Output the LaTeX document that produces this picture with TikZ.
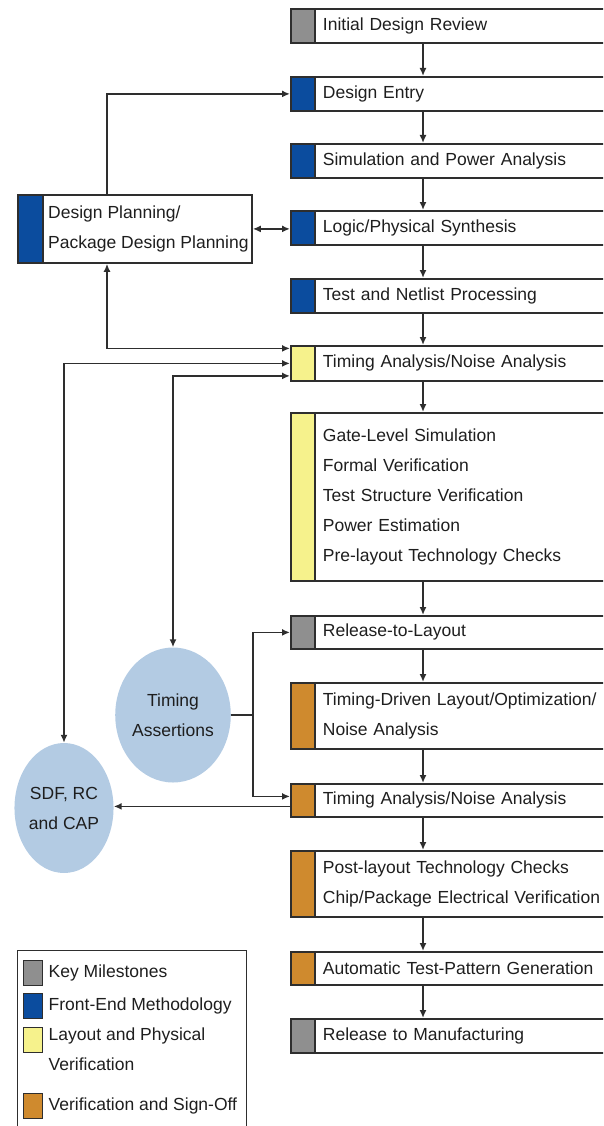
\documentclass[tikz,border=0pt]{standalone}
\usepackage{fontspec}
\setmainfont{Liberation Sans}
\usetikzlibrary{arrows.meta,shapes.geometric,calc}
\definecolor{cgrey}{HTML}{8F8F8F}
\definecolor{cblue}{HTML}{0B4C9E}
\definecolor{cyel}{HTML}{F6F28C}
\definecolor{corg}{HTML}{CF8A2E}
\definecolor{cell}{HTML}{B3CBE3}
\definecolor{lc}{HTML}{2E2E2E}
\definecolor{tc}{HTML}{1E1E1E}
\newcommand{\fsz}{\fontsize{17.5}{30}\selectfont}
\begin{document}
\begin{tikzpicture}[x=1pt,y=1pt,
  stage/.style={draw=lc, line width=1.8pt, anchor=north west, inner xsep=32pt, inner ysep=0pt,
    text width=300pt, align=left, font=\fsz, text=tc,
    path picture={\fill[#1] (path picture bounding box.south west) rectangle ([xshift=24pt]path picture bounding box.north west);
      \draw[lc, line width=1.6pt] ([xshift=24pt]path picture bounding box.south west) -- ([xshift=24pt]path picture bounding box.north west);}},
  dpbox/.style={draw=lc, line width=1.8pt, anchor=north west, minimum width=234pt, minimum height=68pt, inner sep=0pt,
    path picture={\fill[cblue] (path picture bounding box.south west) rectangle ([xshift=25pt]path picture bounding box.north west);
      \draw[lc, line width=1.6pt] ([xshift=25pt]path picture bounding box.south west) -- ([xshift=25pt]path picture bounding box.north west);}},
  txt/.style={anchor=west, align=left, font=\fsz, text=tc, inner sep=0pt},
  oval/.style={ellipse, fill=cell, inner sep=0pt, align=center, font=\fsz, text=tc},
  swatch/.style={draw=lc, line width=1pt, minimum width=19pt, minimum height=25pt, inner sep=0pt},
  arr/.style={draw=lc, line width=1.6pt, -{Latex[length=8pt,width=7pt]}},
  arrr/.style={draw=lc, line width=1.6pt, {Latex[length=8pt,width=7pt]}-{Latex[length=8pt,width=7pt]}},
  ln/.style={draw=lc, line width=1.6pt}
]
\useasboundingbox (0,0) rectangle (603,-1126);
\clip (0,0) rectangle (603,-1126);

% main flow
\node[stage=cgrey, minimum height=34pt] (b1) at (290,-8) {Initial Design Review};
\node[stage=cblue, minimum height=34pt] (b2) at (290,-76) {Design Entry};
\node[stage=cblue, minimum height=34pt] (b3) at (290,-143) {Simulation and Power Analysis};
\node[stage=cblue, minimum height=34pt] (b4) at (290,-210) {Logic/Physical Synthesis};
\node[stage=cblue, minimum height=34pt] (b5) at (290,-278) {Test and Netlist Processing};
\node[stage=cyel, minimum height=35pt] (b6) at (290,-345) {Timing Analysis/Noise Analysis};
\node[stage=cyel, minimum height=168pt] (b7) at (290,-412) {Gate-Level Simulation\\Formal Verification\\Test Structure Verification\\Power Estimation\\Pre-layout Technology Checks};
\node[stage=cgrey, minimum height=33pt] (b8) at (290,-615) {Release-to-Layout};
\node[stage=corg, minimum height=66pt] (b9) at (290,-682) {Timing-Driven Layout/Optimization/\\Noise Analysis};
\node[stage=corg, minimum height=33pt] (b10) at (290,-783) {Timing Analysis/Noise Analysis};
\node[stage=corg, minimum height=66pt] (b11) at (290,-850) {Post-layout Technology Checks\\Chip/Package Electrical Verification};
\node[stage=corg, minimum height=33pt] (b12) at (290,-951) {Automatic Test-Pattern Generation};
\node[stage=cgrey, minimum height=34pt] (b13) at (290,-1018) {Release to Manufacturing};

\coordinate (xa) at (423,0);
\coordinate (xl) at (107,0);
\coordinate (xj) at (253,0);

\foreach \a/\b in {b1/b2,b2/b3,b3/b4,b4/b5,b5/b6,b6/b7,b7/b8,b8/b9,b9/b10,b10/b11,b11/b12,b12/b13}
  \draw[arr] (\a.south -| xa) -- (\b.north -| xa);

% design planning
\node[dpbox] (dp) at (17,-194) {};
\node[txt] (dpt) at ([xshift=31pt]dp.west) {Design Planning/\\Package Design Planning};

% ovals
\node[oval, minimum width=94pt, minimum height=135pt] (ta) at (173,-715) {Timing\\Assertions};
\node[oval, minimum width=96pt, minimum height=130pt] (sdf) at (64,-808) {SDF, RC\\and CAP};

% connectors
\draw[arr] (dp.north -| xl) |- (b2.west);
\draw[arrr] (dp.east) -- (dp.east -| b4.west);
\draw[arrr] (dp.south -| xl) |- ([yshift=15pt]b6.west);
\draw[arrr] (sdf.north) |- (b6.west);
\draw[arrr] (ta.north) |- ([yshift=-12.5pt]b6.west);
\draw[ln] (ta.east) -- (ta.east -| xj);
\draw[arr] (ta.east -| xj) |- (b8.west);
\draw[arr] (ta.east -| xj) |- ([yshift=4pt]b10.west);
\draw[arr] ([yshift=-6pt]b10.west) -- ([yshift=-6pt]b10.west -| sdf.east);

% legend
\node[draw=lc, line width=1.3pt, anchor=north west, minimum width=229pt, minimum height=200pt, inner sep=0pt] (leg) at (17,-950) {};
\node[swatch, fill=cgrey] (s1) at (32.5,-972.5) {};
\node[swatch, fill=cblue] (s2) at (32.5,-1005.5) {};
\node[swatch, fill=cyel] (s3) at (32.5,-1040) {};
\node[swatch, fill=corg] (s4) at (32.5,-1106) {};
\node[txt] (l1) at ([xshift=6pt]s1.east) {Key Milestones};
\node[txt] (l2) at ([xshift=6pt]s2.east) {Front-End Methodology};
\node[txt, anchor=north west] (l3) at ([xshift=6pt,yshift=12pt]s3.east) {Layout and Physical\\Verification};
\node[txt] (l4) at ([xshift=6pt]s4.east) {Verification and Sign-Off};
\end{tikzpicture}
\end{document}
